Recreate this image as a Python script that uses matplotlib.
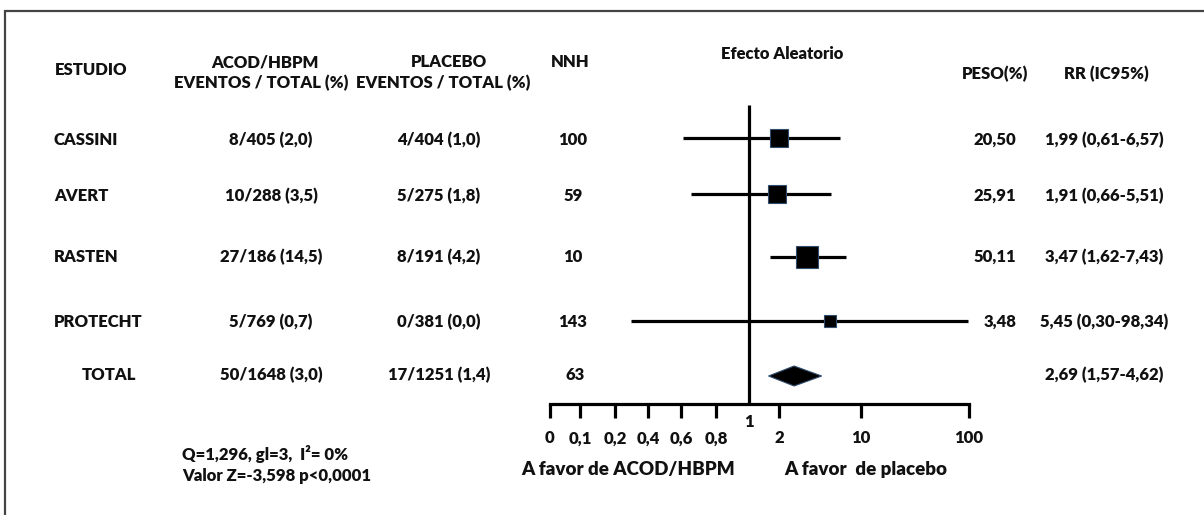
import numpy as np
import matplotlib
matplotlib.use("Agg")
import matplotlib.pyplot as plt
from matplotlib.patches import Rectangle

# ---------------- data ----------------
studies = ["CASSINI", "AVERT", "RASTEN", "PROTECHT"]
acod_events = [8, 10, 27, 5]
acod_total = [405, 288, 186, 769]
acod_pct = [2.0, 3.5, 14.5, 0.7]
plac_events = [4, 5, 8, 0]
plac_total = [404, 275, 191, 381]
plac_pct = [1.0, 1.8, 4.2, 0.0]
nnh = [100, 59, 10, 143]
weights = [20.50, 25.91, 50.11, 3.48]
rr = [1.99, 1.91, 3.47, 5.45]
rr_lo = [0.61, 0.66, 1.62, 0.30]
rr_hi = [6.57, 5.51, 7.43, 98.34]

total_acod = (50, 1648, 3.0)
total_plac = (17, 1251, 1.4)
total_nnh = 63
total_rr = (2.69, 1.57, 4.62)

tick_values = [0, 0.1, 0.2, 0.4, 0.6, 0.8, 2, 10, 100]
tick_labels = ["0", "0,1", "0,2", "0,4", "0,6", "0,8", "2", "10", "100"]

het_lines = ["Q=1,296, gl=3,  I\u00b2= 0%", "Valor Z=-3,598 p<0,0001"]

# ---------------- layout ----------------
W, H = 1204, 515
DPI = 100
FONT = ["Lato", "DejaVu Sans"]
FS = 12
ROW_Y = [140, 196, 257, 322, 375]          # pixel rows (studies + total)
FOREST_Y = [138, 194, 257, 321, 376]
AXIS_Y = 404
VLINE_TOP = 105
# hand-drawn axis: pixel location of each reference value
SCALE_VALS = [0, 0.1, 0.2, 0.4, 0.6, 0.8, 1, 2, 10, 100]
SCALE_PX = [550, 580, 615, 648, 681, 716, 749, 779, 861, 969]
TXT = "#111111"


def comma(v, nd):
    return f"{v:.{nd}f}".replace(".", ",")


def _t(v):
    v = np.asarray(v, dtype=float)
    return np.where(v <= 1, v, 1 + np.log10(np.maximum(v, 1e-12)))


def _tinv(t):
    t = np.asarray(t, dtype=float)
    return np.where(t <= 1, t, 10 ** (t - 1))


T_TICKS = _t(SCALE_VALS)


def fwd(v):
    return np.interp(_t(v), T_TICKS, SCALE_PX)


def inv(p):
    return _tinv(np.interp(p, SCALE_PX, T_TICKS))


plt.rcParams["font.family"] = FONT
plt.rcParams["font.weight"] = "bold"

fig = plt.figure(figsize=(W / DPI, H / DPI), dpi=DPI)
fig.patch.set_facecolor("white")


def ftext(x, y, s, ha="center", va="center", size=FS, **kw):
    fig.text(x / W, 1 - y / H, s, ha=ha, va=va, fontsize=size,
             fontweight="heavy", color=TXT, **kw)


# frame (cropped on right and bottom)
fig.add_artist(Rectangle((4.5 / W, -0.05), 1.1, 1 - 11 / H + 0.05,
                         transform=fig.transFigure, fill=False,
                         edgecolor="#444444", linewidth=1.6, clip_on=False))

# ---------------- forest axes ----------------
x0, x1 = SCALE_PX[0], SCALE_PX[-1]
ax = fig.add_axes([x0 / W, 0, (x1 - x0) / W, 1])
ax.set_xscale("function", functions=(fwd, inv))
ax.set_xlim(0, 100)
ax.set_ylim(H, 0)
ax.patch.set_alpha(0)
for s in ["top", "left", "right"]:
    ax.spines[s].set_visible(False)
ax.spines["bottom"].set_position(("data", AXIS_Y))
ax.spines["bottom"].set_linewidth(2.3)
ax.spines["bottom"].set_capstyle("projecting")
ax.set_yticks([])
ax.set_xticks(tick_values)
ax.set_xticklabels(tick_labels)
ax.set_xticks([], minor=True)
ax.tick_params(axis="x", direction="out", length=10, width=2.3,
               pad=9, labelsize=FS, colors="black")
for lab in ax.get_xticklabels():
    lab.set_fontweight("heavy")
    lab.set_color(TXT)

# null line at RR = 1
ax.plot([1, 1], [VLINE_TOP, AXIS_Y], color="black", lw=2.3,
        solid_capstyle="butt", clip_on=False)
ax.text(1, 422, "1", ha="center", va="center", fontsize=FS,
        fontweight="heavy", color=TXT)

# study CIs and squares (square size scales with sqrt(weight))
for i in range(len(studies)):
    y = FOREST_Y[i]
    ax.plot([rr_lo[i], rr_hi[i]], [y, y], color="black", lw=2.3,
            solid_capstyle="butt", clip_on=False, zorder=3)
    side_px = 10.1 + 1.54 * np.sqrt(weights[i])
    ax.plot([rr[i]], [y], marker="s", ms=side_px * 72 / DPI,
            markerfacecolor="black", markeredgecolor="#2f4d6e",
            markeredgewidth=0.8, linestyle="none", clip_on=False, zorder=4)

# pooled diamond
est, lo, hi = total_rr
yt = FOREST_Y[4]
ax.fill([lo, est, hi, est], [yt, yt - 10, yt, yt + 10], color="black",
        edgecolor="#2f4d6e", linewidth=0.8, clip_on=False, zorder=4)

# ---------------- text table ----------------
# headers
ftext(55, 70, "ESTUDIO", ha="left")
ftext(265, 62, "ACOD/HBPM")
ftext(261, 83, "EVENTOS / TOTAL (%)")
ftext(449, 62, "PLACEBO")
ftext(443, 83, "EVENTOS / TOTAL (%)")
ftext(570, 62, "NNH")
ftext(782, 54, "Efecto Aleatorio")
ftext(995, 74, "PESO(%)")
ftext(1106, 74, "RR (IC95%)")

for i, name in enumerate(studies):
    y = ROW_Y[i]
    ftext(54, y, name, ha="left")
    ftext(271, y, f"{acod_events[i]}/{acod_total[i]} ({comma(acod_pct[i], 1)})")
    ftext(439, y, f"{plac_events[i]}/{plac_total[i]} ({comma(plac_pct[i], 1)})")
    ftext(573, y, f"{nnh[i]}")
    ftext(1016, y, comma(weights[i], 2), ha="right")
    ftext(1104, y, f"{comma(rr[i], 2)} ({comma(rr_lo[i], 2)}-{comma(rr_hi[i], 2)})")

y = ROW_Y[4]
ftext(82, y, "TOTAL", ha="left")
ftext(271, y, f"{total_acod[0]}/{total_acod[1]} ({comma(total_acod[2], 1)})")
ftext(439, y, f"{total_plac[0]}/{total_plac[1]} ({comma(total_plac[2], 1)})")
ftext(575, y, f"{total_nnh}")
ftext(1104, y, f"{comma(total_rr[0], 2)} ({comma(total_rr[1], 2)}-{comma(total_rr[2], 2)})")

# heterogeneity
ftext(182, 454, het_lines[0], ha="left")
ftext(182, 476, het_lines[1], ha="left")

# favours labels
ftext(628, 470, "A favor de ACOD/HBPM", size=13.5)
ftext(866, 470, "A favor  de placebo", size=13.5)

fig.savefig("out.png", dpi=DPI, facecolor="white")
